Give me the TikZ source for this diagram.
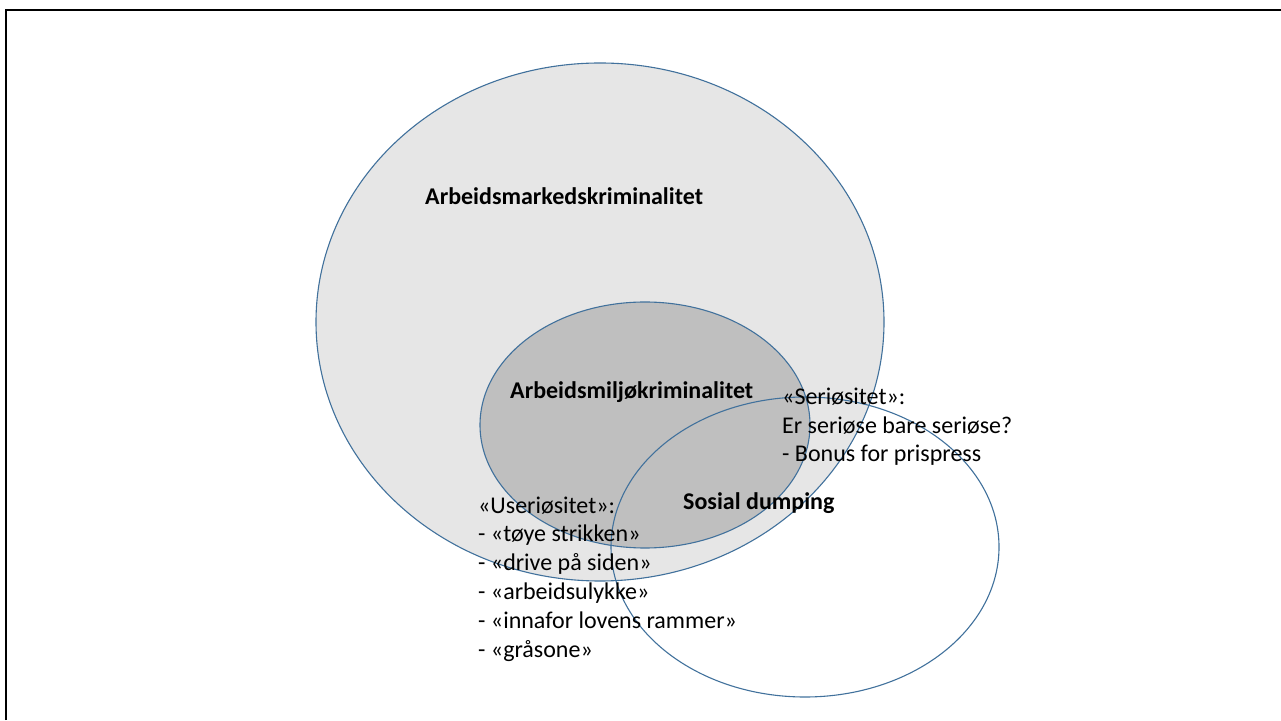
\documentclass[tikz,border=0pt]{standalone}
\usepackage{fontspec}
\setmainfont{Carlito}
\definecolor{ringblue}{RGB}{65,113,156}
\definecolor{outerfill}{RGB}{230,230,230}
\definecolor{innerfill}{RGB}{191,191,191}
\begin{document}
\begin{tikzpicture}[x=1pt, y=1pt,
    ring/.style={draw=ringblue, line width=1.1pt},
    lbl/.style={inner sep=0pt, anchor=base west, align=left,
        font=\fontsize{24}{28.8}\selectfont},
    boldlbl/.style={lbl, font=\fontsize{24}{28.8}\selectfont\bfseries}]

    % Ramme
    \useasboundingbox (0,0) rectangle (1281,720);
    \draw[line width=2.8pt] (6,0) -- (6,710) -- (1281,710);

    % Ellipser
    \draw[ring, fill=outerfill] (600,398) ellipse [x radius=284pt, y radius=259pt];
    \draw[ring, fill=innerfill] (645,295) ellipse [x radius=165pt, y radius=123pt];
    \draw[ring] (805,173) ellipse [x radius=194pt, y radius=150pt];

    % Tekster (base = siste linje)
    \node[boldlbl] (marked) at (425,515) {Arbeidsmarkedskriminalitet};
    \node[boldlbl] (miljo) at (510,321) {Arbeidsmiljøkriminalitet};
    \node[boldlbl] (dumping) at (683,210) {Sosial dumping};
    \node[lbl] (serio) at (782,258) {«Seriøsitet»:\\Er seriøse bare seriøse?\\- Bonus for prispress};
    \node[lbl] (userio) at (478,63) {«Useriøsitet»:\\- «tøye strikken»\\- «drive på siden»\\- «arbeidsulykke»\\- «innafor lovens rammer»\\- «gråsone»};

\end{tikzpicture}
\end{document}
